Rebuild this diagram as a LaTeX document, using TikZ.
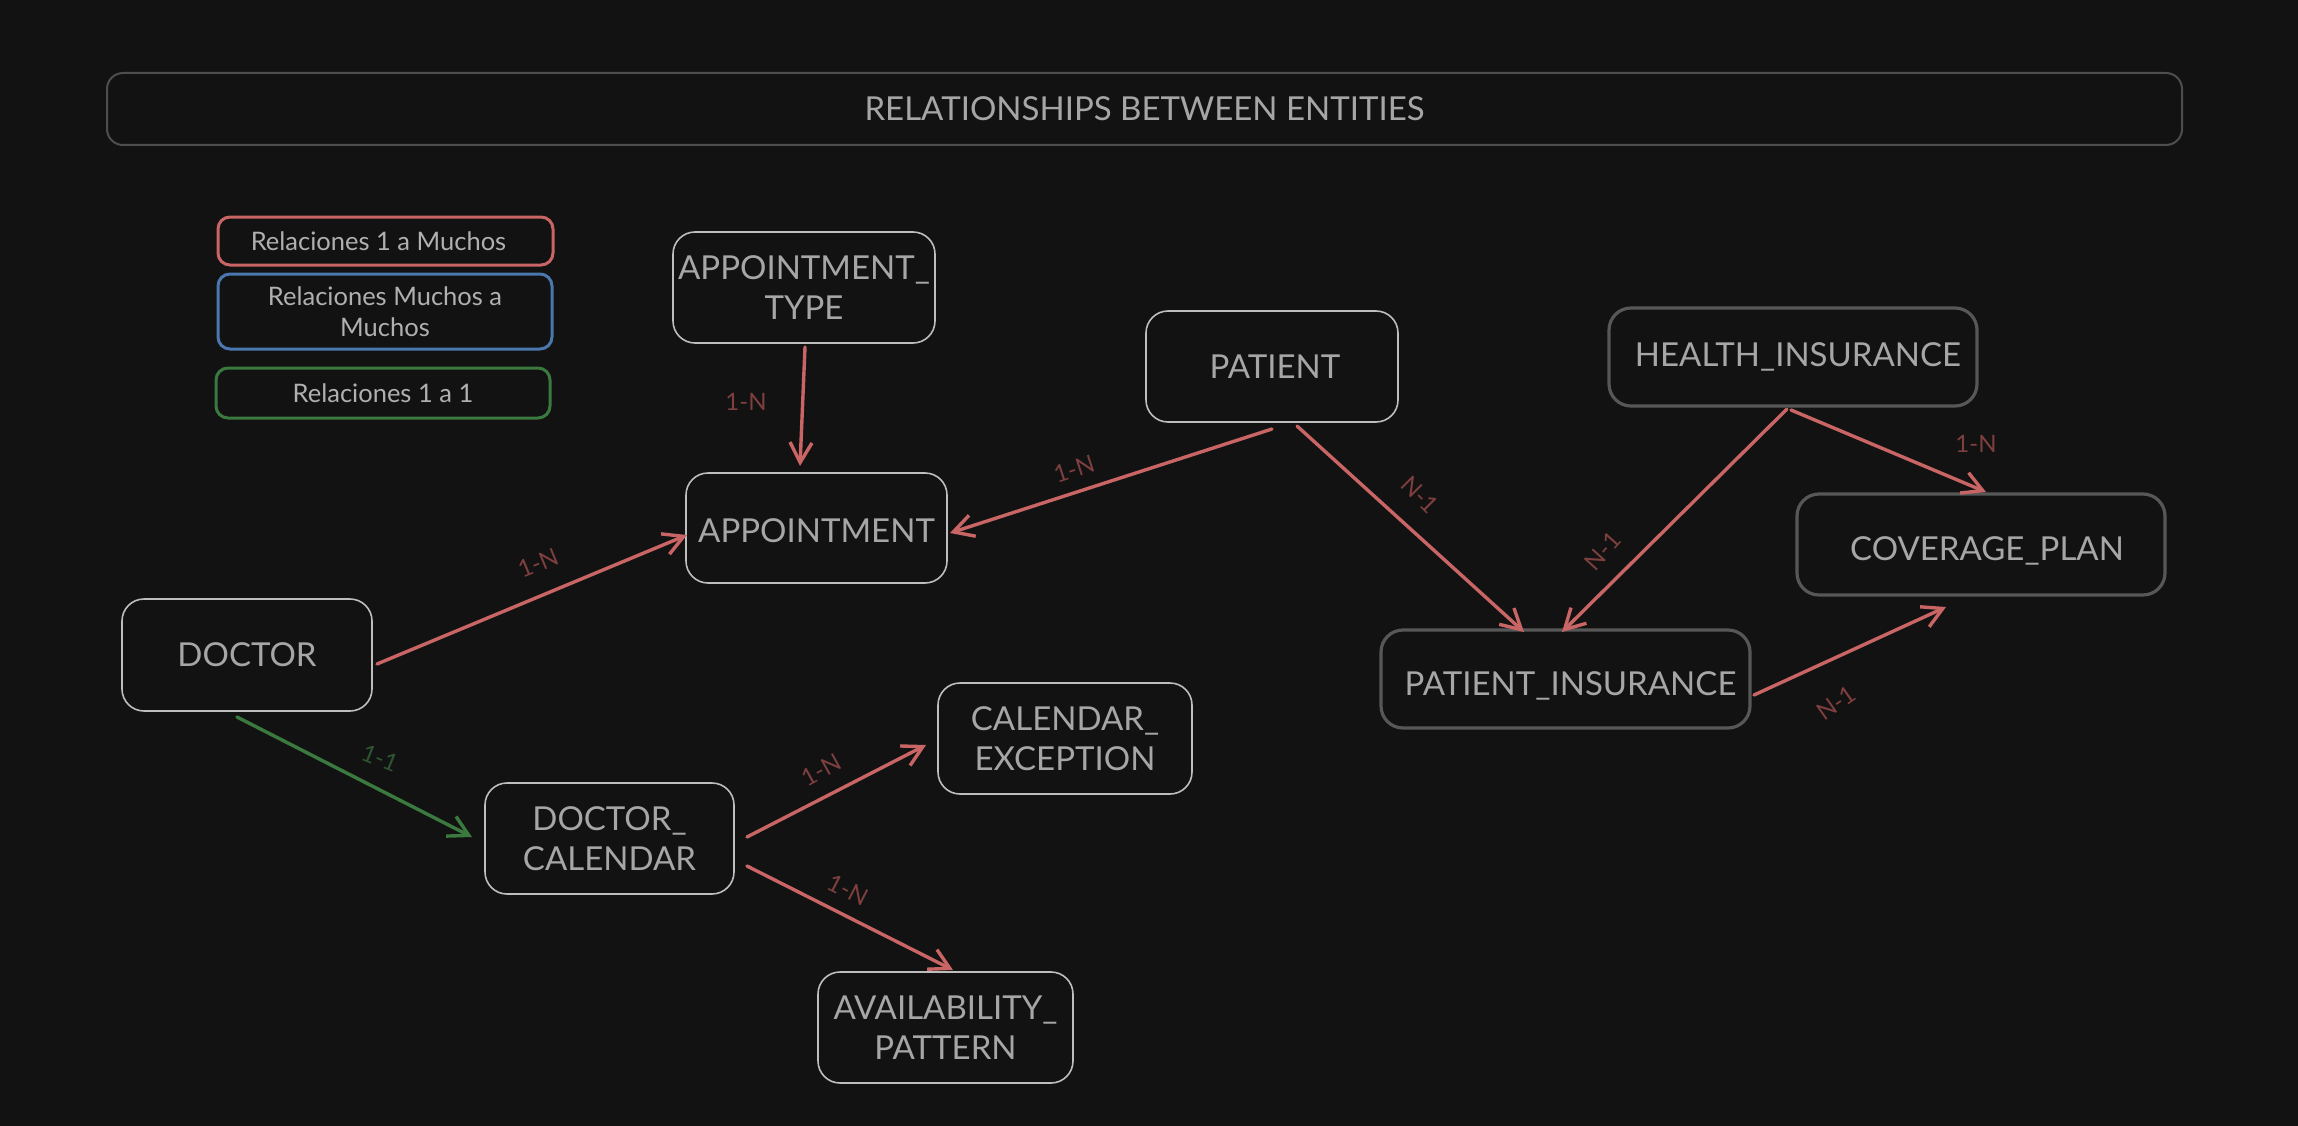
\documentclass[tikz,border=0pt]{standalone}
\usepackage{fontspec}
\setmainfont{Lato}
\usetikzlibrary{arrows.meta,calc}
\definecolor{bg}{HTML}{121212}
\definecolor{ntext}{HTML}{A6A6A6}
\definecolor{ltext}{HTML}{B0B0B0}
\definecolor{lborder}{HTML}{BEBEBE}
\definecolor{dborder}{HTML}{575757}
\definecolor{tborder}{HTML}{4E4E4E}
\definecolor{redline}{HTML}{C96565}
\definecolor{redlab}{HTML}{7E3F3F}
\definecolor{greenline}{HTML}{3B7A3E}
\definecolor{greenlab}{HTML}{2E5531}
\definecolor{blueline}{HTML}{4A78AE}
\newcommand{\lowertext}[2]{\raisebox{-#1}[\height][\depth]{#2}}
\begin{document}
\begin{tikzpicture}[x=1pt,y=-1pt,
 entity/.style={draw=lborder, line width=1.6pt, rounded corners=22pt, text=ntext,
   font=\fontsize{33}{40}\selectfont, align=center, inner sep=0pt},
 dentity/.style={entity, draw=dborder, line width=3.2pt},
 legendbox/.style={rounded corners=12pt, line width=3pt, text=ltext,
   font=\fontsize{25.5}{31}\selectfont, align=center, inner sep=0pt},
 rel/.style={draw=redline, line width=3.4pt, line cap=round,
   -{Straight Barb[length=20pt,width=22pt]}},
 onerel/.style={rel, draw=greenline},
 rlab/.style={text=redlab, font=\fontsize{24}{28}\selectfont, inner sep=0pt},
 glab/.style={rlab, text=greenlab}
]
\fill[bg] (0,0) rectangle (2298,1126);
\useasboundingbox (0,0) rectangle (2298,1126);

% title
\node[draw=tborder, line width=2pt, rounded corners=16pt, minimum width=2075pt, minimum height=72pt,
  text=ntext, font=\fontsize{33}{38}\selectfont, inner sep=0pt] (title) at (1144.5,109) {RELATIONSHIPS BETWEEN ENTITIES};

% legend
\node[legendbox, draw=redline, minimum width=335pt, minimum height=48pt] (lgr) at (385.5,241) {\hspace*{-14pt}Relaciones 1 a Muchos};
\node[legendbox, draw=blueline, minimum width=334pt, minimum height=75pt] (lgb) at (385,311.5) {Relaciones Muchos a\\Muchos};
\node[legendbox, draw=greenline, minimum width=334pt, minimum height=50pt] (lgg) at (383,393) {Relaciones 1 a 1};

% entities
\node[entity, minimum width=262pt, minimum height=111pt] (atype) at (804,287.5) {APPOINTMENT\_\\TYPE};
\node[entity, minimum width=261pt, minimum height=110pt] (appt) at (816.5,528) {\lowertext{3pt}{APPOINTMENT}};
\node[entity, minimum width=252pt, minimum height=111pt] (pat) at (1272,366.5) {\hspace*{6pt}PATIENT};
\node[dentity, minimum width=368pt, minimum height=98pt] (hins) at (1793,357) {\hspace*{10pt}HEALTH\_INSURANCE};
\node[dentity, minimum width=368pt, minimum height=101pt] (cov) at (1981,544.5) {\hspace*{12pt}\lowertext{6pt}{COVERAGE\_PLAN}};
\node[dentity, minimum width=369pt, minimum height=98pt] (pins) at (1565.5,679) {\hspace*{10pt}\lowertext{7pt}{PATIENT\_INSURANCE}};
\node[entity, minimum width=250pt, minimum height=112pt] (doc) at (247,655) {DOCTOR};
\node[entity, minimum width=249pt, minimum height=111pt] (dcal) at (609.5,838.5) {DOCTOR\_\\CALENDAR};
\node[entity, minimum width=254pt, minimum height=111pt] (cexc) at (1065,738.5) {CALENDAR\_\\EXCEPTION};
\node[entity, minimum width=255pt, minimum height=111pt] (avail) at (945.5,1027.5) {AVAILABILITY\_\\PATTERN};

% connectors
\draw[rel] ($(atype)+(1,59.5)$) -- ($(appt)+(-16.5,-62)$);
\draw[rel] ($(pat)+(0,62.5)$) -- ($(appt)+(133.5,5)$);
\draw[rel] ($(doc)+(130,9)$) -- ($(appt)+(-129.5,7)$);
\draw[rel] ($(pat)+(25,59.5)$) -- ($(pins)+(-41.5,-47)$);
\draw[rel] ($(hins)+(-6,52)$) -- ($(pins)+(-3.5,-47)$);
\draw[rel] ($(hins)+(-2,53)$) -- ($(cov)+(5,-52.5)$);
\draw[rel] ($(pins)+(188.5,16)$) -- ($(cov)+(-35,62.5)$);
\draw[onerel] ($(doc)+(-10,62)$) -- ($(dcal)+(-137.5,-1.5)$);
\draw[rel] ($(dcal)+(137.5,-1.5)$) -- ($(cexc)+(-139,6.5)$);
\draw[rel] ($(dcal)+(137.5,27.5)$) -- ($(avail)+(7.5,-57.5)$);

% labels
\node[rlab] (l1) at (746,402) {1-N};
\node[rlab, rotate=18] (l2) at (1074,469) {1-N};
\node[rlab, rotate=22.6] (l3) at (538,563) {1-N};
\node[rlab, rotate=-45] (l4) at (1420,495) {N-1};
\node[rlab, rotate=48] (l5) at (1603,551) {N-1};
\node[rlab] (l6) at (1976,444) {1-N};
\node[rlab, rotate=35] (l7) at (1836,703) {N-1};
\node[glab, rotate=-22] (l8) at (380,758) {1-1};
\node[rlab, rotate=29] (l9) at (821,770) {1-N};
\node[rlab, rotate=-27] (l10) at (848,890) {1-N};
\end{tikzpicture}
\end{document}
